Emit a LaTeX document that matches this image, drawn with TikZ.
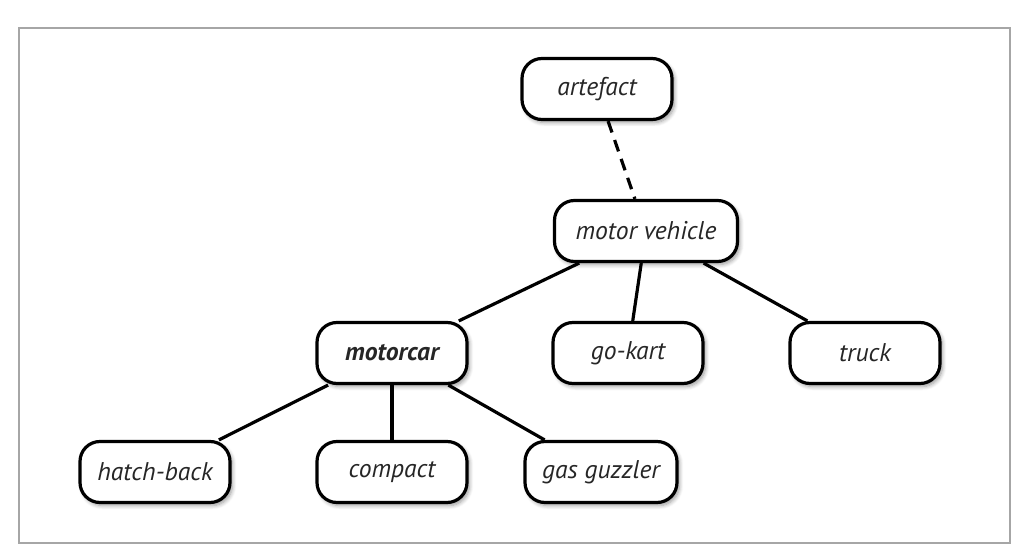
\documentclass[tikz,border=0pt]{standalone}
\usepackage{fontspec}
\setmainfont{PT Sans}
\usepackage{xcolor}
\usepackage{tikz}
\usetikzlibrary{
  shadows.blur,
  positioning
}

\definecolor{textgray}{HTML}{262626}

\begin{document}
\begin{tikzpicture}[x=0.5pt, y=-0.5pt,
  concept/.style={draw=black, line width=1.6pt, fill=white, rounded corners=10pt,
    minimum width=75pt, minimum height=30.5pt, inner sep=2pt,
    font=\fontsize{12.8}{14}\selectfont\itshape, text=textgray,
    blur shadow={shadow xshift=1.2pt, shadow yshift=-1.5pt, shadow blur steps=6, shadow opacity=40}},
  link/.style={line width=1.6pt}
]

% Canvas and frame
\useasboundingbox (0,0) rectangle (1030,556);
\draw[gray!70, line width=0.8pt] (19,28) rectangle (1010,543);

% Top levels
\node[concept] (artefact) at (597,89) {artefact};
\node[concept, minimum width=91.5pt] (vehicle) at (646,231) {motor vehicle};

% Middle row
\node[concept] (motorcar) at (392,353) {\bfseries motorcar};
\node[concept] (gokart) at (628,353) {go-kart};
\node[concept] (truck) at (865,353) {truck};

% Bottom row
\node[concept] (hatchback) at (155,472) {hatch-back};
\node[concept] (compact) at (392,472) {compact};
\node[concept, minimum width=76pt] (guzzler) at (601,472) {gas guzzler};

% Links
\draw[link, dash pattern=on 6pt off 4pt] (artefact) -- (vehicle);
\draw[link] (vehicle) -- (motorcar);
\draw[link] (vehicle) -- (gokart);
\draw[link] (vehicle) -- (truck);
\draw[link] (motorcar) -- (hatchback);
\draw[link] (motorcar) -- (compact);
\draw[link] (motorcar) -- (guzzler);

\end{tikzpicture}
\end{document}
